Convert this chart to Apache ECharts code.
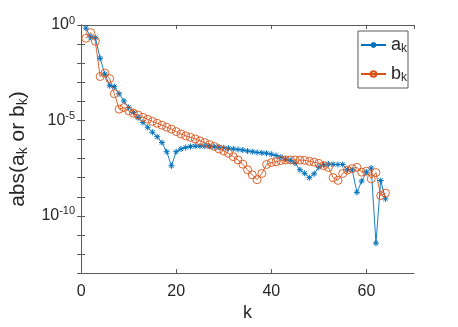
<!DOCTYPE html>
<html>
<head>
<meta charset="utf-8">
<title>coefficients</title>
<script src="https://cdn.jsdelivr.net/npm/echarts@6/dist/echarts.min.js"></script>
<style>
  html, body { margin: 0; padding: 0; background: #fff; }
  #main { width: 458px; height: 327px; }
</style>
</head>
<body>
<div id="main"></div>
<script>
// k = 1..64
var ks = [1,2,3,4,5,6,7,8,9,10,11,12,13,14,15,16,17,18,19,20,21,22,23,24,25,26,27,28,29,30,31,32,
          33,34,35,36,37,38,39,40,41,42,43,44,45,46,47,48,49,50,51,52,53,54,55,56,57,58,59,60,61,62,63,64];

var aVals = [6.9e-1,2.3e-1,2.2e-1,1.8e-2,2.7e-3,6.6e-4,5.9e-4,2.5e-4,1.05e-4,4.8e-5,2.6e-5,1.4e-5,7.8e-6,4.4e-6,2.4e-6,1.4e-6,
             6.9e-7,2.3e-7,4.2e-8,2.3e-7,3.2e-7,3.8e-7,4.3e-7,4.5e-7,4.5e-7,4.5e-7,4.4e-7,4.2e-7,4.0e-7,3.7e-7,3.5e-7,3.2e-7,
             3.0e-7,2.8e-7,2.5e-7,2.3e-7,2.1e-7,2.0e-7,1.9e-7,1.7e-7,1.45e-7,1.2e-7,9.3e-8,7.9e-8,5.8e-8,2.6e-8,1.7e-8,1.0e-8,
             1.6e-8,3.5e-8,4.7e-8,5.2e-8,5.0e-8,4.9e-8,4.9e-8,2.6e-8,2.6e-8,1.7e-9,6.6e-9,1.95e-8,3.2e-8,3.7e-12,7.1e-9,7.8e-10];

var bVals = [2.0e-1,4.0e-1,1.4e-1,2.0e-3,3.0e-3,1.55e-3,2.5e-4,3.9e-5,4.7e-5,3.2e-5,2.4e-5,1.9e-5,1.45e-5,1.15e-5,8.9e-6,7.1e-6,
             5.6e-6,4.4e-6,3.5e-6,2.6e-6,1.95e-6,1.55e-6,1.3e-6,1.07e-6,8.5e-7,6.9e-7,5.4e-7,4.3e-7,3.2e-7,2.5e-7,1.9e-7,1.26e-7,
             8.5e-8,5.1e-8,2.6e-8,1.4e-8,7.9e-9,1.66e-8,4.9e-8,6.2e-8,6.9e-8,7.9e-8,8.5e-8,8.5e-8,8.5e-8,8.3e-8,8.1e-8,7.2e-8,
             6.5e-8,5.6e-8,4.3e-8,3.4e-8,1.0e-8,7.2e-9,1.66e-8,2.5e-8,3.0e-8,3.5e-8,1.95e-8,2.2e-8,8.7e-9,1.86e-8,1.15e-9,1.55e-9];

var xTicks = [0, 20, 40, 60];
var yLabelExps = [0, -5, -10];

var blue = '#0072BD';
var orange = '#D95319';
var axisCol = '#5a5a5a';
var txtCol = '#262626';
var font = 'Liberation Sans, Arial, sans-serif';

// MATLAB-like asterisk marker
var star = 'path://M0,-1L0,1M-1,0L1,0M-0.7,-0.7L0.7,0.7M-0.7,0.7L0.7,-0.7';

function pairs(vals) {
  return ks.map(function (k, i) { return [k, vals[i]]; });
}

var chart = echarts.init(document.getElementById('main'), null, { renderer: 'canvas' });

var option = {
  animation: false,
  backgroundColor: '#fff',
  grid: { left: 81, right: 44, top: 25, bottom: 52, containLabel: false },
  legend: {
    orient: 'vertical',
    right: 50,
    top: 31,
    backgroundColor: '#fff',
    borderColor: axisCol,
    borderWidth: 1,
    padding: [5, 1, 4, 2],
    itemWidth: 25,
    itemHeight: 7,
    itemGap: 10,
    data: ['a', 'b'],
    formatter: function (name) { return '{n|' + name + '}{s|k}'; },
    textStyle: {
      rich: {
        n: { fontSize: 18, lineHeight: 20, fontFamily: font, color: txtCol },
        s: { fontSize: 12, lineHeight: 12, fontFamily: font, color: txtCol, verticalAlign: 'bottom' }
      }
    }
  },
  xAxis: [{
    type: 'value',
    min: 0, max: 70, interval: 20,
    name: 'k',
    nameLocation: 'middle',
    nameGap: 26,
    nameTextStyle: { fontSize: 18, fontFamily: font, color: txtCol },
    axisLine: { lineStyle: { color: axisCol } },
    axisTick: { inside: true, length: 4, lineStyle: { color: axisCol } },
    axisLabel: {
      fontSize: 16, fontFamily: font, color: txtCol, margin: 10, showMaxLabel: false,
      formatter: function (v) { return xTicks.indexOf(v) >= 0 ? String(v) : ''; }
    },
    splitLine: { show: false }
  }, {
    type: 'value', position: 'top',
    min: 0, max: 70, interval: 20,
    axisLine: { lineStyle: { color: axisCol } },
    axisTick: { inside: true, length: 4, lineStyle: { color: axisCol } },
    axisLabel: { show: false },
    splitLine: { show: false }
  }],
  yAxis: [{
    type: 'log',
    logBase: 10,
    min: 1e-13, max: 1, interval: 1,
    name: '{n|abs(a}{s|k}{n| or b}{s|k}{n|)}',
    nameLocation: 'middle',
    nameGap: 42,
    nameTextStyle: {
      fontSize: 21, fontFamily: font, color: txtCol,
      rich: {
        n: { fontSize: 21, lineHeight: 24, fontFamily: font, color: txtCol },
        s: { fontSize: 14, lineHeight: 14, fontFamily: font, color: txtCol, verticalAlign: 'bottom' }
      }
    },
    axisLine: { show: true, lineStyle: { color: axisCol } },
    axisTick: { show: true, inside: true, length: 4, lineStyle: { color: axisCol } },
    axisLabel: {
      margin: 6,
      formatter: function (v) {
        var e = Math.round(Math.log(v) / Math.LN10);
        return yLabelExps.indexOf(e) >= 0 ? '{b|10}{e|' + e + '}' : '';
      },
      rich: {
        b: { fontSize: 16, fontFamily: font, color: txtCol },
        e: { fontSize: 11, fontFamily: font, color: txtCol, padding: [0, 0, 9, 0] }
      }
    },
    splitLine: { show: false },
    minorTick: { show: false }
  }, {
    type: 'log',
    logBase: 10,
    position: 'right',
    min: 1e-13, max: 1, interval: 1,
    axisLine: { show: true, lineStyle: { color: axisCol } },
    axisTick: { show: true, inside: true, length: 4, lineStyle: { color: axisCol } },
    axisLabel: { show: false },
    splitLine: { show: false }
  }],
  series: [{
    name: 'a',
    type: 'line',
    xAxisIndex: 0, yAxisIndex: 0,
    data: pairs(aVals),
    symbol: star,
    symbolSize: 6,
    lineStyle: { color: blue, width: 0.9 },
    itemStyle: { color: blue, borderColor: blue, borderWidth: 1 }
  }, {
    name: 'b',
    type: 'line',
    xAxisIndex: 0, yAxisIndex: 0,
    data: pairs(bVals),
    symbol: 'circle',
    symbolSize: 8,
    lineStyle: { color: orange, width: 0.9 },
    itemStyle: { color: 'rgba(255,255,255,0)', borderColor: orange, borderWidth: 0.9 }
  }]
};

chart.setOption(option);
</script>
</body>
</html>
